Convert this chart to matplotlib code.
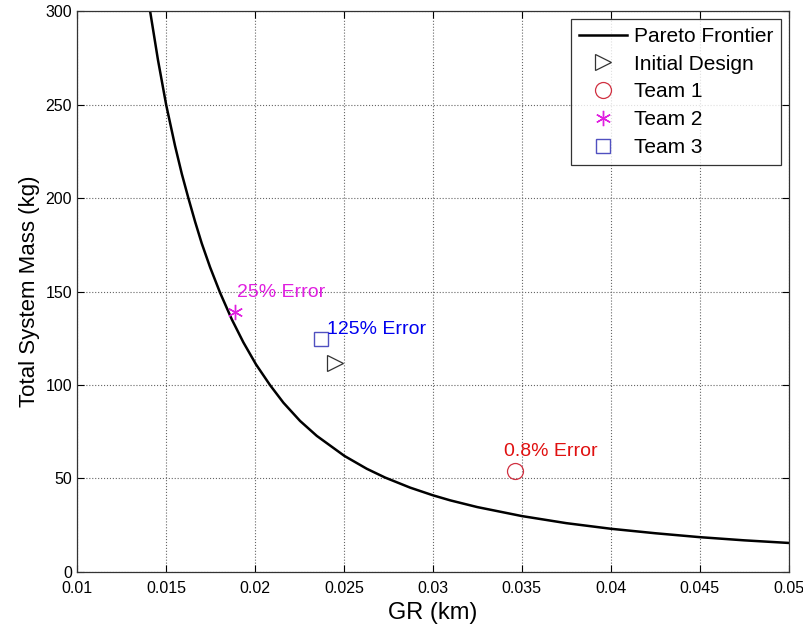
import matplotlib
matplotlib.use("Agg")
import matplotlib.pyplot as plt

# Pareto frontier
pareto_x = [0.01411, 0.01455, 0.01501, 0.01551, 0.01589, 0.01626, 0.01664, 0.01701, 0.01748, 0.01804,
            0.01870, 0.01935, 0.02006, 0.02085, 0.02160, 0.02254, 0.02348, 0.02503, 0.02629, 0.02732,
            0.02873, 0.03001, 0.03098, 0.03250, 0.03500, 0.03750, 0.04000, 0.04250, 0.04500, 0.04750,
            0.05000]
pareto_y = [300.0, 274.0, 250.0, 228.0, 213.0, 200.0, 187.3, 175.8, 163.0, 149.4,
            135.1, 122.8, 111.0, 99.9, 90.5, 80.7, 72.7, 62.0, 55.1, 50.4,
            45.0, 40.9, 38.2, 34.6, 29.8, 26.0, 23.0, 20.6, 18.5, 16.8,
            15.4]

initial_x, initial_y = [0.02451], [111.9]
team1_x, team1_y = [0.03460], [54.1]
team2_x, team2_y = [0.01889], [138.9]
team3_x, team3_y = [0.02372], [124.4]

labels = ["25% Error", "125% Error", "0.8% Error"]
label_x = [0.0190, 0.02404, 0.03398]
label_y = [149.4, 129.4, 64.6]
label_colors = ["#e020e0", "#0000ee", "#e01010"]

x_ticks = [0.01, 0.015, 0.02, 0.025, 0.03, 0.035, 0.04, 0.045, 0.05]
x_tick_labels = ["0.01", "0.015", "0.02", "0.025", "0.03", "0.035", "0.04", "0.045", "0.05"]
y_ticks = [0, 50, 100, 150, 200, 250, 300]

plt.rcParams['font.family'] = ['Liberation Sans', 'DejaVu Sans']

fig = plt.figure(figsize=(8.04, 6.32), dpi=100)
ax = fig.add_axes([0.0958, 0.0954, 0.885, 0.8867])

ax.plot(pareto_x, pareto_y, color='black', lw=1.8, label='Pareto Frontier', solid_joinstyle='round')
ax.plot(initial_x, initial_y, linestyle='none', marker='>', ms=12, mfc='none', mec='#333333', mew=0.9, label='Initial Design')
ax.plot(team1_x, team1_y, linestyle='none', marker='o', ms=11.5, mfc='none', mec='#d03040', mew=0.9, label='Team 1')
ax.plot(team2_x, team2_y, linestyle='none', marker=(6, 2, 0), ms=11, mfc='none', mec='#e020e0', mew=1.0, label='Team 2')
ax.plot(team3_x, team3_y, linestyle='none', marker='s', ms=9.5, mfc='none', mec='#5050c0', mew=1.0, label='Team 3')

for t, x, y, c in zip(labels, label_x, label_y, label_colors):
    ax.text(x, y, t, color=c, fontsize=14, va='center', ha='left')

ax.set_xlim(0.01, 0.05)
ax.set_ylim(0, 300)
ax.set_xticks(x_ticks)
ax.set_xticklabels(x_tick_labels)
ax.set_yticks(y_ticks)
ax.tick_params(direction='in', top=True, right=True, labelsize=11.5, length=5, width=0.8)
ax.tick_params(axis='x', pad=7)
ax.grid(True, linestyle=':', color='#666666', lw=0.8)
for s in ax.spines.values():
    s.set_linewidth(0.9)
    s.set_color('#333333')

ax.set_xlabel('GR (km)', fontsize=17, labelpad=4)
ax.set_ylabel('Total System Mass (kg)', fontsize=16)

leg = ax.legend(loc='upper right', fontsize=15, frameon=True, fancybox=False, edgecolor='black',
                borderaxespad=0.35, handlelength=2.3, labelspacing=0.42, handletextpad=0.3,
                borderpad=0.4)
leg.get_frame().set_linewidth(0.9)

fig.savefig('out.png', dpi=100, facecolor='white')
